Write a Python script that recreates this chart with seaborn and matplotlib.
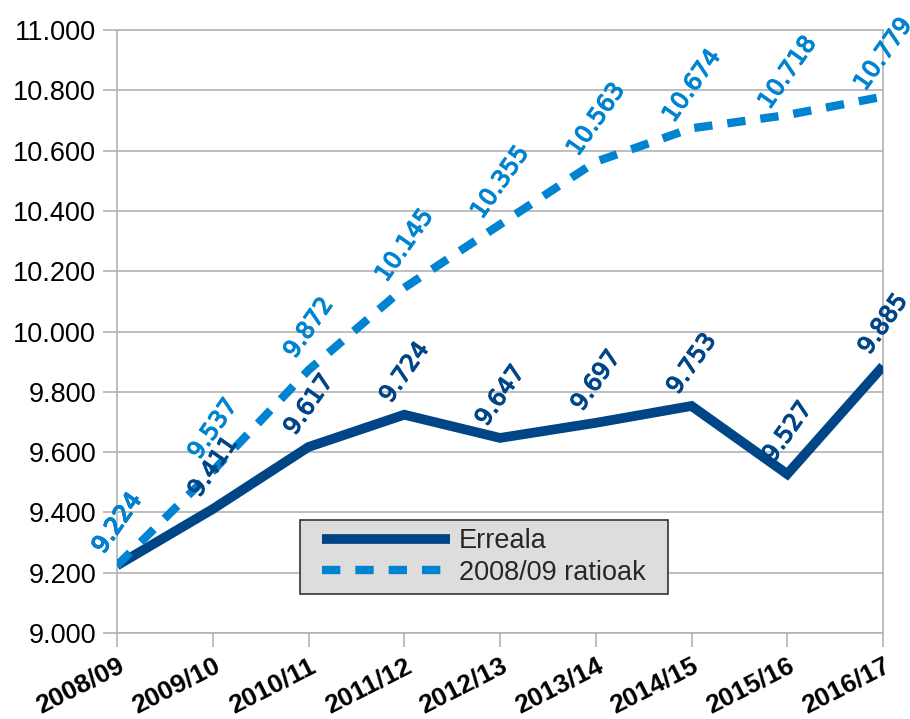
import matplotlib
matplotlib.use("Agg")
import matplotlib.pyplot as plt
import matplotlib.patheffects as pe
from matplotlib.patches import Rectangle
import seaborn as sns
import pandas as pd

years = ["2008/09", "2009/10", "2010/11", "2011/12", "2012/13",
         "2013/14", "2014/15", "2015/16", "2016/17"]
erreala = [9224, 9411, 9617, 9724, 9647, 9697, 9753, 9527, 9885]
ratioak = [9224, 9537, 9872, 10145, 10355, 10563, 10674, 10718, 10779]
series_names = ["Erreala", "2008/09 ratioak"]
y_ticks = list(range(9000, 11001, 200))

DARK = "#004586"
LIGHT = "#0084d1"
GRID = "#b3b3b3"

sns.set_theme(style="white")
plt.rcParams["font.family"] = ["Liberation Sans", "DejaVu Sans"]

def fmt(v):
    return f"{v:,}".replace(",", ".")

W, H = 910, 719
fig = plt.figure(figsize=(W / 100, H / 100), dpi=100)
ax = fig.add_axes([117/W, 1-633/H, (883-117)/W, (633-30)/H])

pos = list(range(len(years)))
df1 = pd.DataFrame({"x": pos, "y": erreala})
df2 = pd.DataFrame({"x": pos, "y": ratioak})

sns.lineplot(data=df1, x="x", y="y", ax=ax, color=DARK, linewidth=7,
             label=series_names[0], zorder=3, solid_capstyle="butt", solid_joinstyle="miter")
sns.lineplot(data=df2, x="x", y="y", ax=ax, color=LIGHT, linewidth=6,
             linestyle=(0, (2.2, 1.8)), label=series_names[1], zorder=4,
             dash_capstyle="butt")

for vals, col, z in ((erreala, DARK, 5), (ratioak, LIGHT, 6)):
    for xi, v in zip(pos, vals):
        ax.annotate(fmt(v), (xi, v), xytext=(0, 30.5), textcoords="offset points",
                    rotation=55, rotation_mode="anchor", ha="center", va="center",
                    color=col, fontsize=17, family="DejaVu Sans", zorder=z,
                    annotation_clip=False,
                    path_effects=[pe.withStroke(linewidth=0.9, foreground=col)])

ax.set_xlim(0, len(years) - 1)
ax.set_ylim(9000, 11000)
ax.set_yticks(y_ticks)
ax.set_yticklabels([fmt(t) for t in y_ticks], fontsize=19.5, color="black")
ax.set_xticks(pos)
ax.set_xticklabels(years, rotation=27, ha="right", rotation_mode="anchor",
                   fontsize=19, fontweight="bold", color="black")
ax.set_xlabel("")
ax.set_ylabel("")

ax.grid(axis="y", color=GRID, linewidth=1.2)
ax.grid(axis="x", visible=False)
for s in ax.spines.values():
    s.set_color(GRID)
    s.set_linewidth(1.2)
    s.set_visible(True)
ax.tick_params(axis="both", which="major", length=10, width=1.2, color=GRID,
               direction="out", left=True, bottom=True, pad=5)

leg = ax.legend(loc="center", bbox_to_anchor=((484-117)/766, (633-557)/603),
                fontsize=19.5, handlelength=4.7, frameon=False,
                borderpad=0.0, labelspacing=0.2, handletextpad=0.35,
                borderaxespad=0)
leg.set_zorder(10)

# legend frame drawn behind with wider horizontal padding
fig.canvas.draw()
bb = leg.get_window_extent()
padx, pady = 22, 8
rect = Rectangle(((bb.x0 - padx) / W, (bb.y0 - pady) / H),
                 (bb.width + 2 * padx) / W, (bb.height + 2 * pady) / H,
                 transform=fig.transFigure, facecolor="#dddddd",
                 edgecolor="#333333", linewidth=1.2, zorder=9)
ax.add_artist(rect)
rect.set_clip_on(False)

fig.savefig("out.png", dpi=100, facecolor="white")
